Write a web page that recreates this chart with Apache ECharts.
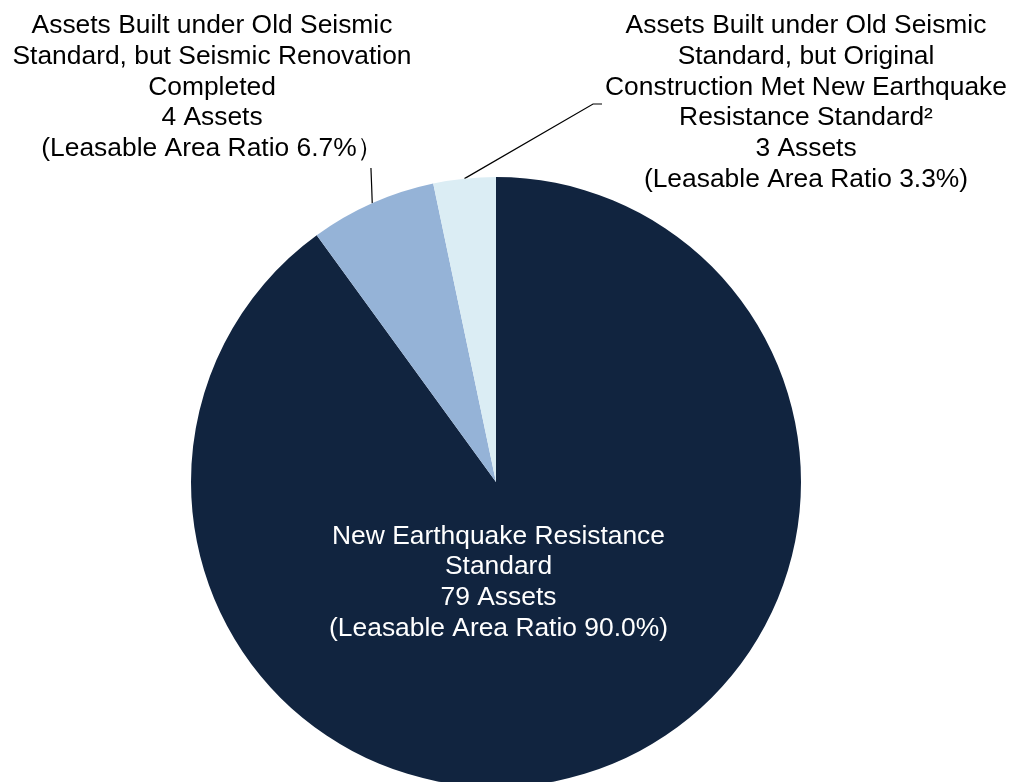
<!DOCTYPE html>
<html>
<head>
<meta charset="utf-8">
<script src="https://cdn.jsdelivr.net/npm/echarts@6/dist/echarts.min.js"></script>
<style>
  html, body { margin: 0; padding: 0; background: #ffffff; }
  #chart { width: 1015px; height: 782px; }
</style>
</head>
<body>
<div id="chart"></div>
<script>
// Portfolio breakdown by earthquake-resistance standard
const categories = [
  'New Earthquake Resistance\nStandard',
  'Assets Built under Old Seismic\nStandard, but Seismic Renovation\nCompleted',
  'Assets Built under Old Seismic\nStandard, but Original\nConstruction Met New Earthquake\nResistance Standard²'
];
const assetCounts = [79, 4, 3];
const areaRatios = [90.0, 6.7, 3.3];
const closingMarks = [')', '）', ')'];

const FONT = "'Liberation Sans', Arial, sans-serif";
const FONT_SIZE = 26.4;
const LINE_H = 30.7;

const chart = echarts.init(document.getElementById('chart'), null, { renderer: 'canvas' });

const seriesData = categories.map(function (name, i) {
  const item = { name: name, value: areaRatios[i] };
  if (i === 0) {
    item.label = { position: 'inside', color: '#ffffff' };
    item.labelLine = { show: false };
  }
  return item;
});

chart.setOption({
  backgroundColor: '#ffffff',
  animation: false,
  series: [{
    type: 'pie',
    center: [496, 482],
    radius: 305,
    startAngle: 90,
    clockwise: true,
    avoidLabelOverlap: false,
    silent: true,
    color: ['#11243f', '#95b3d7', '#dbedf4'],
    itemStyle: { borderWidth: 0 },
    label: {
      show: true,
      position: 'outside',
      overflow: 'none',
      color: '#000000',
      fontFamily: FONT,
      fontSize: FONT_SIZE,
      lineHeight: LINE_H,
      align: 'center',
      formatter: function (p) {
        const i = p.dataIndex;
        return p.name + '\n' + assetCounts[i] + ' Assets\n(Leasable Area Ratio ' +
          areaRatios[i].toFixed(1) + '%' + closingMarks[i];
      }
    },
    labelLine: {
      show: true,
      lineStyle: { color: '#000000', width: 1.2 }
    },
    labelLayout: function (p) {
      const i = p.dataIndex;
      const h = p.labelRect.height;
      const w = p.labelRect.width;
      if (i === 0) {
        return { x: 498.5, y: 582.5, align: 'center', verticalAlign: 'middle' };
      }
      const start = p.labelLinePoints[0];
      if (i === 1) {
        const top = 10.5;
        const endY = top + h + 4;
        return {
          x: 212, y: top, align: 'center', verticalAlign: 'top',
          labelLinePoints: [
            [start[0], start[1]],
            [start[0] - 0.6, (start[1] + endY) / 2],
            [start[0] - 1.3, endY]
          ]
        };
      }
      const top2 = 10.5;
      const cx = 806;
      const left = cx - w / 2;
      const y = 104;
      return {
        x: cx, y: top2, align: 'center', verticalAlign: 'top',
        labelLinePoints: [
          [start[0], start[1]],
          [left - 12, y],
          [left - 3, y]
        ]
      };
    },
    data: seriesData
  }]
});
</script>
</body>
</html>
